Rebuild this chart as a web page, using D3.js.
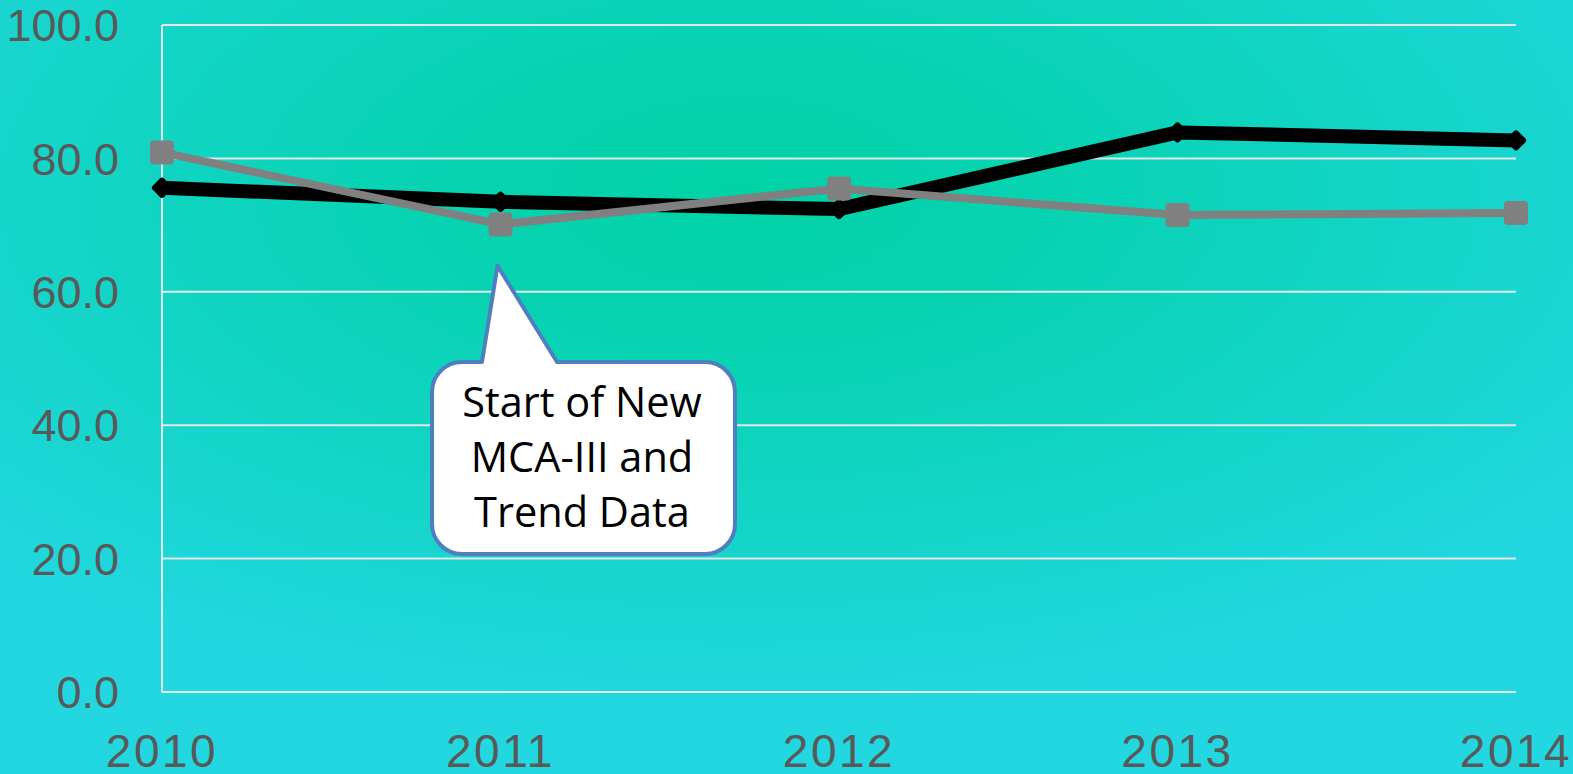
<!DOCTYPE html>
<html>
<head>
<meta charset="utf-8">
<script src="https://cdn.jsdelivr.net/npm/d3@7"></script>
<style>
  html, body { margin: 0; padding: 0; overflow: hidden; }
  svg { display: block; }
</style>
</head>
<body>
<svg id="chart"></svg>
<script>
const years = [2010, 2011, 2012, 2013, 2014]
const blackSeries = [75.6, 73.5, 72.4, 83.9, 82.7]
const graySeries = [80.9, 70.1, 75.5, 71.5, 71.8]
const yTicks = [0, 20, 40, 60, 80, 100]
const calloutLines = ["Start of New", "MCA-III and", "Trend Data"]

const width = 1573
const height = 774
const plotLeft = 162
const plotRight = 1516
const plotTop = 25
const plotBottom = 692

const svg = d3.select("#chart").attr("width", width).attr("height", height)

// background glow
const defs = svg.append("defs")
const grad = defs.append("radialGradient")
  .attr("id", "bg")
  .attr("cx", "0.47").attr("cy", "0.25").attr("r", "0.68")
grad.append("stop").attr("offset", "0").attr("stop-color", "#01d2a6")
grad.append("stop").attr("offset", "0.3").attr("stop-color", "#07d3b2")
grad.append("stop").attr("offset", "1").attr("stop-color", "#22d7e0")
svg.append("rect").attr("width", width).attr("height", height).attr("fill", "url(#bg)")

const x = d3.scalePoint().domain(years).range([plotLeft, plotRight])
const y = d3.scaleLinear().domain([0, 100]).range([plotBottom, plotTop])

// gridlines
svg.append("g")
  .selectAll("line")
  .data(yTicks)
  .join("line")
  .attr("x1", plotLeft).attr("x2", plotRight)
  .attr("y1", (d) => y(d)).attr("y2", (d) => y(d))
  .attr("stroke", "#e2e6e6").attr("stroke-width", 2)

svg.append("line")
  .attr("x1", plotLeft).attr("x2", plotLeft)
  .attr("y1", y(0)).attr("y2", y(100))
  .attr("stroke", "#e2e6e6").attr("stroke-width", 2)

// y labels
svg.append("g")
  .selectAll("text")
  .data(yTicks)
  .join("text")
  .attr("x", 119)
  .attr("y", (d) => y(d))
  .attr("dy", "0.36em")
  .attr("text-anchor", "end")
  .attr("font-family", "Liberation Sans, Arial, sans-serif")
  .attr("font-size", 45)
  .attr("fill", "#595959")
  .text((d) => d.toFixed(1))

// x labels
svg.append("g")
  .selectAll("text")
  .data(years)
  .join("text")
  .attr("x", (d) => x(d))
  .attr("y", 767)
  .attr("text-anchor", "middle")
  .attr("font-family", "Liberation Sans, Arial, sans-serif")
  .attr("font-size", 46)
  .attr("letter-spacing", 2.5)
  .attr("fill", "#595959")
  .text((d) => d)

const line = d3.line().x((d) => x(d.year)).y((d) => y(d.value))
const blackData = years.map((yr, i) => ({ year: yr, value: blackSeries[i] }))
const grayData = years.map((yr, i) => ({ year: yr, value: graySeries[i] }))

svg.append("path")
  .datum(blackData)
  .attr("d", line)
  .attr("fill", "none")
  .attr("stroke", "#000")
  .attr("stroke-width", 14)
  .attr("stroke-linejoin", "round")

svg.append("g")
  .selectAll("rect")
  .data(blackData)
  .join("rect")
  .attr("x", -8).attr("y", -8)
  .attr("width", 16).attr("height", 16)
  .attr("rx", 3)
  .attr("fill", "#000")
  .attr("transform", (d) => `translate(${x(d.year)},${y(d.value)}) rotate(45)`)

svg.append("path")
  .datum(grayData)
  .attr("d", line)
  .attr("fill", "none")
  .attr("stroke", "#808080")
  .attr("stroke-width", 8)
  .attr("stroke-linejoin", "round")

svg.append("g")
  .selectAll("rect")
  .data(grayData)
  .join("rect")
  .attr("x", (d) => x(d.year) - 12)
  .attr("y", (d) => y(d.value) - 12)
  .attr("width", 24).attr("height", 24)
  .attr("rx", 4)
  .attr("fill", "#808080")

// callout
const tipX = x(2011) - 3
const tipY = y(63.9)
const bx0 = 432, bx1 = 735, by0 = 362, by1 = 554, r = 30
const baseA = 482, baseB = 557
const callout = d3.path()
callout.moveTo(bx0 + r, by0)
callout.lineTo(baseA, by0)
callout.lineTo(tipX, tipY)
callout.lineTo(baseB, by0)
callout.lineTo(bx1 - r, by0)
callout.arcTo(bx1, by0, bx1, by0 + r, r)
callout.lineTo(bx1, by1 - r)
callout.arcTo(bx1, by1, bx1 - r, by1, r)
callout.lineTo(bx0 + r, by1)
callout.arcTo(bx0, by1, bx0, by1 - r, r)
callout.lineTo(bx0, by0 + r)
callout.arcTo(bx0, by0, bx0 + r, by0, r)
callout.closePath()

svg.append("path")
  .attr("d", callout.toString())
  .attr("fill", "#fff")
  .attr("stroke", "#4f7fbf")
  .attr("stroke-width", 4)
  .attr("stroke-linejoin", "round")

svg.append("g")
  .selectAll("text")
  .data(calloutLines)
  .join("text")
  .attr("x", 582)
  .attr("y", (d, i) => 417 + i * 55)
  .attr("text-anchor", "middle")
  .attr("font-family", "Open Sans, sans-serif")
  .attr("font-size", 41.5)
  .attr("fill", "#000")
  .text((d) => d)
</script>
</body>
</html>
